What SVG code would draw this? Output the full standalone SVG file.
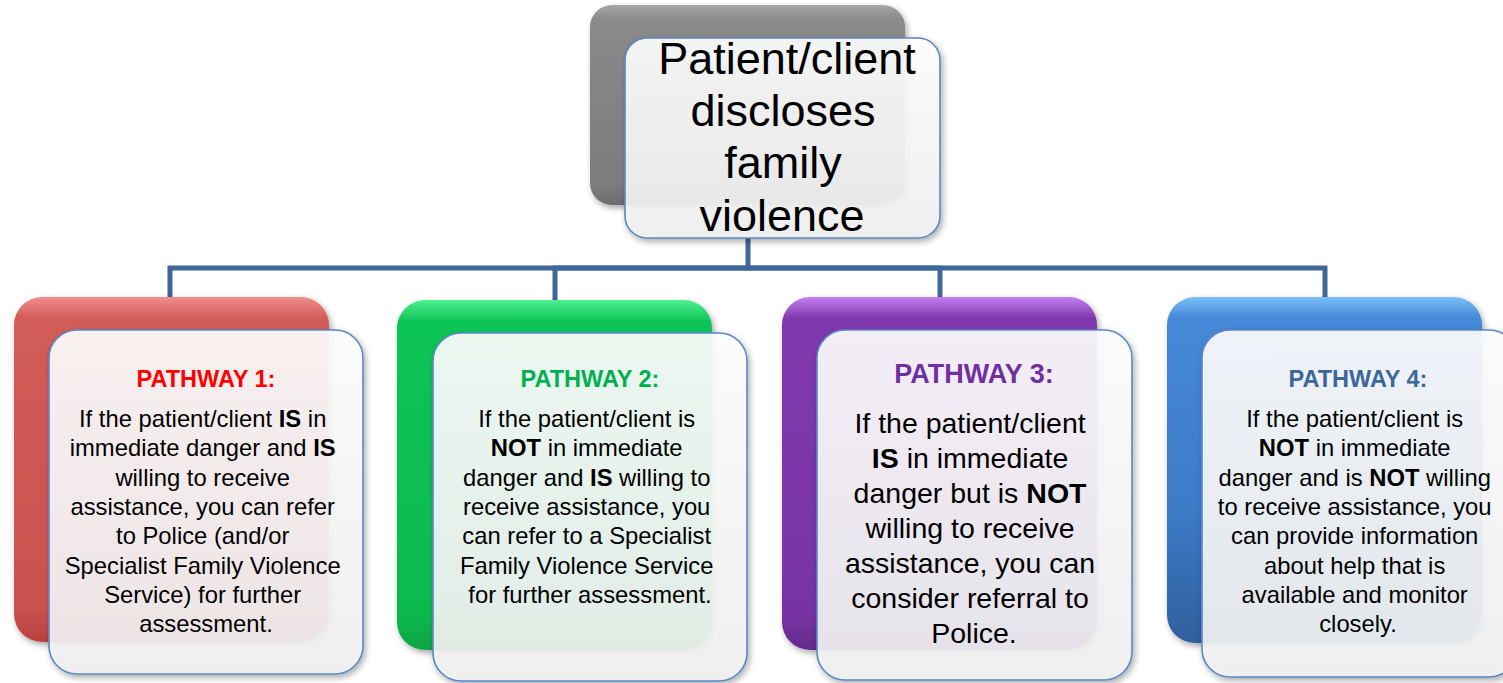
<svg xmlns="http://www.w3.org/2000/svg" width="1503" height="683" viewBox="0 0 1503 683">
<defs>
  <filter id="sh" x="-10%" y="-10%" width="125%" height="125%">
    <feDropShadow dx="2" dy="3" stdDeviation="3" flood-color="#000" flood-opacity="0.35"/>
  </filter>
  <linearGradient id="gGray" x1="0" y1="0" x2="0" y2="1">
    <stop offset="0" stop-color="#a6a6a6"/><stop offset="0.07" stop-color="#8a8a8a"/><stop offset="0.9" stop-color="#7c7c7c"/><stop offset="1" stop-color="#6c6c6c"/>
  </linearGradient>
  <linearGradient id="gRed" x1="0" y1="0" x2="0" y2="1">
    <stop offset="0" stop-color="#f08e8b"/><stop offset="0.06" stop-color="#d25c59"/><stop offset="0.9" stop-color="#cb524f"/><stop offset="1" stop-color="#b8423f"/>
  </linearGradient>
  <linearGradient id="gGreen" x1="0" y1="0" x2="0" y2="1">
    <stop offset="0" stop-color="#4ef08e"/><stop offset="0.06" stop-color="#0fc458"/><stop offset="0.9" stop-color="#0bb950"/><stop offset="1" stop-color="#08a344"/>
  </linearGradient>
  <linearGradient id="gPurple" x1="0" y1="0" x2="0" y2="1">
    <stop offset="0" stop-color="#c27ef0"/><stop offset="0.06" stop-color="#8039ae"/><stop offset="0.9" stop-color="#7733a3"/><stop offset="1" stop-color="#642a8d"/>
  </linearGradient>
  <linearGradient id="gBlue" x1="0" y1="0" x2="0" y2="1">
    <stop offset="0" stop-color="#7cc0f8"/><stop offset="0.06" stop-color="#4589d8"/><stop offset="0.6" stop-color="#3d7cc8"/><stop offset="1" stop-color="#2f5f9e"/>
  </linearGradient>
  <linearGradient id="gWhite" x1="0" y1="0" x2="0" y2="1">
    <stop offset="0" stop-color="#ffffff"/><stop offset="1" stop-color="#f2f2f2"/>
  </linearGradient>
</defs>
<style>
  .back { filter: url(#sh); }
  .front { fill: url(#gWhite); fill-opacity: 0.9; stroke: #5a88c4; stroke-width: 1.6; filter: url(#sh); }
  .conn { fill: none; stroke: #41669a; stroke-width: 5; stroke-linejoin: miter; }
  .title { font-family: "Liberation Sans", Arial, sans-serif; font-size: 45px; fill: #000; text-anchor: middle; }
  .head { font-family: "Liberation Sans", Arial, sans-serif; font-size: 23.5px; font-weight: bold; text-anchor: middle; }
  .body { font-family: "Liberation Sans", Arial, sans-serif; font-size: 23.8px; fill: #000; text-anchor: middle; }
  .body3 { font-family: "Liberation Sans", Arial, sans-serif; font-size: 28.5px; fill: #000; text-anchor: middle; }
  .b { font-weight: bold; }
</style>

<g id="connectors">
  <polyline class="conn" points="748,238 748,268 170,268 170,298"/>
  <polyline class="conn" points="748,268 555,268 555,301"/>
  <polyline class="conn" points="748,268 940,268 940,298"/>
  <polyline class="conn" points="748,268 1325,268 1325,298"/>
</g>

<g id="root">
  <rect class="back" x="590" y="5" width="315" height="200" rx="22" fill="url(#gGray)"/>
  <rect class="front" x="625" y="38" width="315" height="200" rx="22"/>
  <text class="title" x="787" y="74">Patient/client</text>
  <text class="title" x="783" y="126">discloses</text>
  <text class="title" x="783" y="178">family</text>
  <text class="title" x="782" y="231">violence</text>
</g>

<g id="pathway1">
  <rect class="back" x="14" y="297" width="315" height="345" rx="28" fill="url(#gRed)"/>
  <rect class="front" x="49" y="330" width="314" height="344" rx="28"/>
  <text class="head" x="206" y="387" fill="#ff0000">PATHWAY 1:</text>
  <text class="body" x="206">
    <tspan x="206" y="427">If the patient/client <tspan class="b">IS</tspan> in</tspan>
    <tspan x="206" y="456.3">immediate danger and <tspan class="b">IS</tspan></tspan>
    <tspan x="206" y="485.6">willing to receive</tspan>
    <tspan x="206" y="514.9">assistance, you can refer</tspan>
    <tspan x="206" y="544.2">to Police (and/or</tspan>
    <tspan x="206" y="573.5">Specialist Family Violence</tspan>
    <tspan x="206" y="602.8">Service) for further</tspan>
    <tspan x="206" y="632.1">assessment.</tspan>
  </text>
</g>

<g id="pathway2">
  <rect class="back" x="397" y="300" width="315" height="350" rx="28" fill="url(#gGreen)"/>
  <rect class="front" x="433" y="333" width="314" height="348" rx="28"/>
  <text class="head" x="590" y="387" fill="#00b050">PATHWAY 2:</text>
  <text class="body" x="590">
    <tspan x="590" y="427">If the patient/client is</tspan>
    <tspan x="590" y="456.3"><tspan class="b">NOT</tspan> in immediate</tspan>
    <tspan x="590" y="485.6">danger and <tspan class="b">IS</tspan> willing to</tspan>
    <tspan x="590" y="514.9">receive assistance, you</tspan>
    <tspan x="590" y="544.2">can refer to a Specialist</tspan>
    <tspan x="590" y="573.5">Family Violence Service</tspan>
    <tspan x="590" y="602.8">for further assessment.</tspan>
  </text>
</g>

<g id="pathway3">
  <rect class="back" x="782" y="297" width="315" height="353" rx="28" fill="url(#gPurple)"/>
  <rect class="front" x="817" y="330" width="315" height="350" rx="28"/>
  <text class="head" x="974" y="383" fill="#7030a0" style="font-size:27px">PATHWAY 3:</text>
  <text class="body3" x="974">
    <tspan x="974" y="433">If the patient/client</tspan>
    <tspan x="974" y="468"><tspan class="b">IS</tspan> in immediate</tspan>
    <tspan x="974" y="503">danger but is <tspan class="b">NOT</tspan></tspan>
    <tspan x="974" y="538">willing to receive</tspan>
    <tspan x="974" y="573">assistance, you can</tspan>
    <tspan x="974" y="608">consider referral to</tspan>
    <tspan x="974" y="643">Police.</tspan>
  </text>
</g>

<g id="pathway4">
  <rect class="back" x="1167" y="297" width="315" height="346" rx="28" fill="url(#gBlue)"/>
  <rect class="front" x="1202" y="330" width="315" height="347" rx="28"/>
  <text class="head" x="1358" y="387" fill="#3b679b">PATHWAY 4:</text>
  <text class="body" x="1358">
    <tspan x="1358" y="427">If the patient/client is</tspan>
    <tspan x="1358" y="456.3"><tspan class="b">NOT</tspan> in immediate</tspan>
    <tspan x="1358" y="485.6">danger and is <tspan class="b">NOT</tspan> willing</tspan>
    <tspan x="1358" y="514.9">to receive assistance, you</tspan>
    <tspan x="1358" y="544.2">can provide information</tspan>
    <tspan x="1358" y="573.5">about help that is</tspan>
    <tspan x="1358" y="602.8">available and monitor</tspan>
    <tspan x="1358" y="632.1">closely.</tspan>
  </text>
</g>
</svg>
